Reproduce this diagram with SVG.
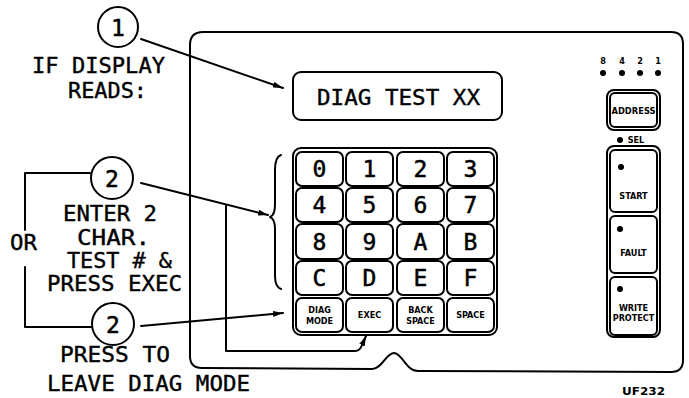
<svg xmlns="http://www.w3.org/2000/svg" width="689" height="398" viewBox="0 0 689 398">
<style>
.ln{fill:none;stroke:#000;stroke-width:2;stroke-linecap:round;stroke-linejoin:round}
.t{font-family:"DejaVu Sans Mono","Liberation Mono",monospace;font-size:22px;fill:#000;stroke:#000;stroke-width:0.4}
.k{font-family:"DejaVu Sans Mono","Liberation Mono",monospace;font-size:23px;fill:#000;stroke:#000;stroke-width:0.5;text-anchor:middle}
.s{font-family:"DejaVu Sans Condensed","DejaVu Sans","Liberation Sans",sans-serif;font-size:9px;font-weight:bold;fill:#000;text-anchor:middle}
.key{fill:#fff;stroke:#000;stroke-width:2}
</style>
<defs>
<marker id="ah" viewBox="0 0 10 6" refX="10" refY="3" markerWidth="10" markerHeight="6" markerUnits="userSpaceOnUse" orient="auto">
<path d="M0,0 L10,3 L0,6 Z" fill="#000"/>
</marker>
</defs>
<rect width="689" height="398" fill="#fff"/>

<g id="panel">
<path class="ln" d="M202,368 Q190,368 190,356 L190,45 Q190,32 203,32 L671,32 Q683,32 683,44 L683,360 Q683,372 671,372 L418,371 C406,371 402,353 394,353 C386,353 382,369 372,369 Z"/>
</g>

<g id="display">
<rect x="293" y="72" width="209" height="48" rx="8" class="ln"/>
<text class="t" x="317" y="105" textLength="163" lengthAdjust="spacingAndGlyphs">DIAG TEST XX</text>
</g>

<g id="keypad">
<rect x="293" y="148" width="204" height="187" rx="8" class="ln"/>
<g id="k0"><rect class="key" x="296" y="152" width="47" height="34" rx="6"/><text class="k" x="319.5" y="177">0</text></g>
<g id="k1"><rect class="key" x="346" y="152" width="47" height="34" rx="6"/><text class="k" x="369.5" y="177">1</text></g>
<g id="k2"><rect class="key" x="397" y="152" width="47" height="34" rx="6"/><text class="k" x="420.5" y="177">2</text></g>
<g id="k3"><rect class="key" x="447" y="152" width="47" height="34" rx="6"/><text class="k" x="470.5" y="177">3</text></g>
<g id="k4"><rect class="key" x="296" y="188" width="47" height="34" rx="6"/><text class="k" x="319.5" y="213">4</text></g>
<g id="k5"><rect class="key" x="346" y="188" width="47" height="34" rx="6"/><text class="k" x="369.5" y="213">5</text></g>
<g id="k6"><rect class="key" x="397" y="188" width="47" height="34" rx="6"/><text class="k" x="420.5" y="213">6</text></g>
<g id="k7"><rect class="key" x="447" y="188" width="47" height="34" rx="6"/><text class="k" x="470.5" y="213">7</text></g>
<g id="k8"><rect class="key" x="296" y="224" width="47" height="35" rx="6"/><text class="k" x="319.5" y="250">8</text></g>
<g id="k9"><rect class="key" x="346" y="224" width="47" height="35" rx="6"/><text class="k" x="369.5" y="250">9</text></g>
<g id="kA"><rect class="key" x="397" y="224" width="47" height="35" rx="6"/><text class="k" x="420.5" y="250">A</text></g>
<g id="kB"><rect class="key" x="447" y="224" width="47" height="35" rx="6"/><text class="k" x="470.5" y="250">B</text></g>
<g id="kC"><rect class="key" x="296" y="261" width="47" height="34" rx="6"/><text class="k" x="319.5" y="286">C</text></g>
<g id="kD"><rect class="key" x="346" y="261" width="47" height="34" rx="6"/><text class="k" x="369.5" y="286">D</text></g>
<g id="kE"><rect class="key" x="397" y="261" width="47" height="34" rx="6"/><text class="k" x="420.5" y="286">E</text></g>
<g id="kF"><rect class="key" x="447" y="261" width="47" height="34" rx="6"/><text class="k" x="470.5" y="286">F</text></g>
<g id="kDiag"><rect class="key" x="296" y="298" width="47" height="34" rx="6"/><text class="s" x="319.5" y="313">DIAG</text><text class="s" x="319.5" y="324">MODE</text></g>
<g id="kExec"><rect class="key" x="346" y="298" width="47" height="34" rx="6"/><text class="s" x="369.5" y="318">EXEC</text></g>
<g id="kBack"><rect class="key" x="397" y="298" width="47" height="34" rx="6"/><text class="s" x="420.5" y="313">BACK</text><text class="s" x="420.5" y="324">SPACE</text></g>
<g id="kSpace"><rect class="key" x="447" y="298" width="47" height="34" rx="6"/><text class="s" x="470.5" y="318">SPACE</text></g>
</g>

<g id="bits">
<text class="s" x="603" y="64">8</text>
<text class="s" x="622" y="64">4</text>
<text class="s" x="640" y="64">2</text>
<text class="s" x="658" y="64">1</text>
<circle cx="603" cy="73" r="3"/>
<circle cx="622" cy="73" r="3"/>
<circle cx="640" cy="73" r="3"/>
<circle cx="658" cy="73" r="3"/>
</g>

<g id="address">
<rect x="607" y="90" width="53" height="40" rx="7" class="ln"/>
<rect x="610" y="93" width="47" height="34" rx="5" class="ln"/>
<text class="s" x="633.5" y="114" textLength="44" lengthAdjust="spacingAndGlyphs">ADDRESS</text>
</g>

<g id="sel">
<circle cx="620" cy="140" r="3"/>
<text class="s" x="636" y="143" font-size="8">SEL</text>
</g>

<g id="status">
<rect x="607" y="146" width="53" height="191" rx="7" class="ln"/>
<rect x="610" y="150" width="47" height="62" rx="5" class="ln"/>
<circle cx="621" cy="167" r="3"/>
<text class="s" x="633.5" y="199">START</text>
<rect x="610" y="216" width="47" height="57" rx="5" class="ln"/>
<circle cx="620" cy="229" r="3"/>
<text class="s" x="633.5" y="256">FAULT</text>
<rect x="610" y="277" width="47" height="58" rx="5" class="ln"/>
<circle cx="620" cy="289" r="3"/>
<text class="s" x="633.5" y="311">WRITE</text>
<text class="s" x="633.5" y="321">PROTECT</text>
</g>

<g id="callout1">
<circle cx="118" cy="27" r="20" class="ln"/>
<text class="k" x="118" y="36">1</text>
<text class="t" x="32" y="73" textLength="133" lengthAdjust="spacingAndGlyphs">IF DISPLAY</text>
<text class="t" x="68" y="98" textLength="79" lengthAdjust="spacingAndGlyphs">READS:</text>
</g>

<g id="callout2a">
<circle cx="112" cy="178" r="21" class="ln"/>
<text class="k" x="112" y="187">2</text>
<text class="t" x="63" y="221" textLength="94" lengthAdjust="spacingAndGlyphs">ENTER 2</text>
<text class="t" x="77" y="245" textLength="73" lengthAdjust="spacingAndGlyphs">CHAR.</text>
<text class="t" x="67" y="268" textLength="105" lengthAdjust="spacingAndGlyphs">TEST # &amp;</text>
<text class="t" x="47" y="291" textLength="135" lengthAdjust="spacingAndGlyphs">PRESS EXEC</text>
</g>

<g id="callout2b">
<circle cx="113" cy="324" r="21" class="ln"/>
<text class="k" x="113" y="333">2</text>
<text class="t" x="60" y="362" textLength="110" lengthAdjust="spacingAndGlyphs">PRESS TO</text>
<text class="t" x="47" y="391" textLength="203" lengthAdjust="spacingAndGlyphs">LEAVE DIAG MODE</text>
</g>

<g id="or">
<text class="t" x="10" y="250" textLength="27" lengthAdjust="spacingAndGlyphs">OR</text>
</g>

<text x="622" y="395" font-family="DejaVu Sans Condensed,DejaVu Sans,Liberation Sans,sans-serif" font-size="10" font-weight="bold" textLength="43" lengthAdjust="spacingAndGlyphs">UF232</text>

<g id="connectors">
<path class="ln" d="M90,173 H25 V230 M25,267 V327 H92"/>
<path class="ln" d="M141,39 L283,88" marker-end="url(#ah)"/>
<path class="ln" d="M141,183 L268,215" marker-end="url(#ah)"/>
<path class="ln" d="M141,326 L283,313" marker-end="url(#ah)"/>
<path class="ln" d="M281,155 Q275,157 275,170 L275,205 Q275,215 270,217 Q275,219 275,229 L275,276 Q275,287 281,289"/>
<path class="ln" d="M226,205 V351 H355 Q360,351 362,345 L366,336" marker-end="url(#ah)"/>
</g>
</svg>
